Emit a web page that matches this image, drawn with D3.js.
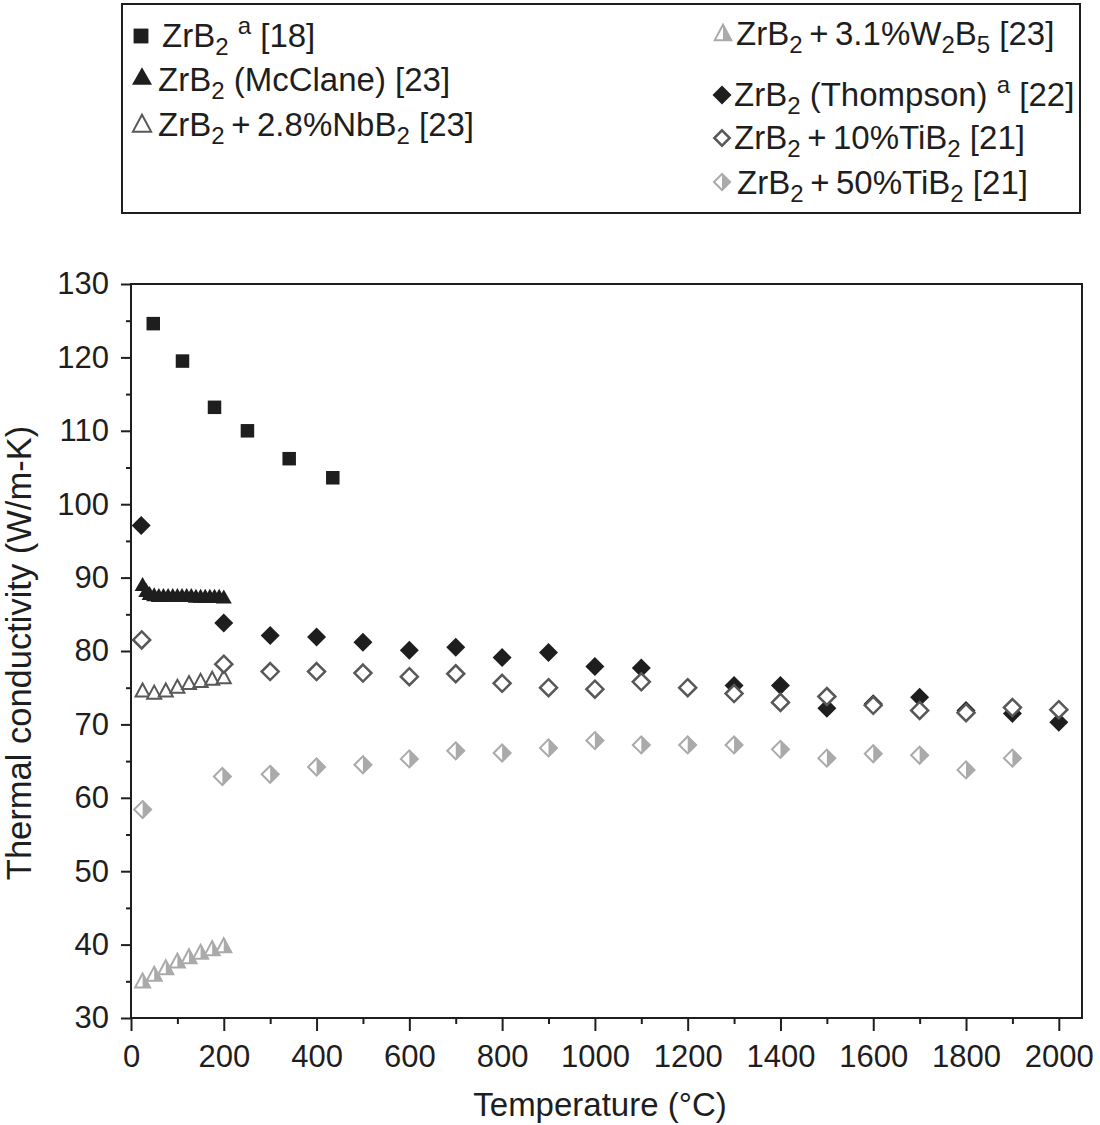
<!DOCTYPE html>
<html>
<head>
<meta charset="utf-8">
<script src="https://cdn.jsdelivr.net/npm/d3@7"></script>
<style>
  body { margin: 0; background: #fff; }
  svg { font-family: "Liberation Sans", Arial, Helvetica, sans-serif; }
</style>
</head>
<body>
<div id="chart"></div>
<script>
/* ============================================================
   DATA
============================================================ */

// ZrB2 a [18] - filled squares
const T_ZRB2_18 = [48, 111, 180, 251, 341, 435];
const K_ZRB2_18 = [124.6, 119.5, 113.2, 110.0, 106.2, 103.6];

// ZrB2 (McClane) [23] - filled triangles
const T_MCCLANE = [25, 33, 40, 50, 60, 70, 80, 90, 100, 110, 120, 130, 140, 150, 160, 170, 180, 190, 200];
const K_MCCLANE = [88.8, 88.0, 87.6, 87.4, 87.3, 87.3, 87.3, 87.3, 87.3, 87.3, 87.3, 87.3, 87.2, 87.2, 87.2, 87.2, 87.2, 87.2, 87.1];

// ZrB2 + 2.8% NbB2 [23] - open triangles
const T_NBB2 = [25, 50, 75, 100, 125, 150, 175, 200];
const K_NBB2 = [74.4, 74.1, 74.4, 74.9, 75.4, 75.7, 76.0, 76.2];

// ZrB2 + 3.1% W2B5 [23] - half-filled grey triangles
const T_W2B5 = [25, 50, 75, 100, 125, 150, 175, 200];
const K_W2B5 = [34.8, 35.7, 36.6, 37.5, 38.1, 38.7, 39.2, 39.6];

// ZrB2 (Thompson) a [22] - filled diamonds
const T_THOMPSON = [22, 200, 300, 400, 500, 600, 700, 800, 900, 1000, 1100, 1300, 1400, 1500, 1600, 1700, 1800, 1900, 2000];
const K_THOMPSON = [97.1, 83.8, 82.1, 81.9, 81.2, 80.1, 80.5, 79.1, 79.8, 77.9, 77.7, 75.3, 75.3, 72.2, 72.8, 73.7, 71.9, 71.5, 70.3];

// ZrB2 + 10% TiB2 [21] - open diamonds
const T_TIB2_10 = [23, 200, 300, 400, 500, 600, 700, 800, 900, 1000, 1100, 1200, 1300, 1400, 1500, 1600, 1700, 1800, 1900, 2000];
const K_TIB2_10 = [81.5, 78.2, 77.2, 77.2, 77.0, 76.5, 76.9, 75.6, 75.0, 74.8, 75.8, 75.0, 74.2, 73.0, 73.8, 72.6, 71.9, 71.6, 72.3, 72.0];

// ZrB2 + 50% TiB2 [21] - half-filled grey diamonds
const T_TIB2_50 = [25, 197, 300, 400, 500, 600, 700, 800, 900, 1000, 1100, 1200, 1300, 1400, 1500, 1600, 1700, 1800, 1900];
const K_TIB2_50 = [58.4, 62.9, 63.2, 64.2, 64.5, 65.3, 66.4, 66.1, 66.8, 67.8, 67.2, 67.2, 67.2, 66.6, 65.4, 66.0, 65.8, 63.8, 65.4];

const X_TICKS = [0, 200, 400, 600, 800, 1000, 1200, 1400, 1600, 1800, 2000];
const X_MINOR = [100, 300, 500, 700, 900, 1100, 1300, 1500, 1700, 1900];
const Y_TICKS = [30, 40, 50, 60, 70, 80, 90, 100, 110, 120, 130];
const Y_MINOR = [35, 45, 55, 65, 75, 85, 95, 105, 115, 125];

const X_TITLE = "Temperature (°C)";
const Y_TITLE = "Thermal conductivity (W/m-K)";

/* ============================================================
   SETUP
============================================================ */

const W = 1100, H = 1125;
const INK = "#1e1e1e";
const OPEN = "#585858";
const GREY = "#aaaaaa";

const svg = d3.select("#chart").append("svg")
    .attr("width", W)
    .attr("height", H);

const xScale = d3.scaleLinear().domain([0, 2050]).range([131, 1082]);
const yScale = d3.scaleLinear().domain([30, 130]).range([1018, 284]);

/* ============================================================
   MARKER SHAPES (relative to centre)
============================================================ */

const sq = s => `M${-s / 2},${-s / 2}h${s}v${s}h${-s}Z`;
const tri = (w, h) => `M0,${-2 * h / 3}L${w / 2},${h / 3}L${-w / 2},${h / 3}Z`;
const triRight = (w, h) => `M0,${-2 * h / 3}L${w / 2},${h / 3}L0,${h / 3}Z`;
const dia = r => `M0,${-r}L${r},0L0,${r}L${-r},0Z`;
const diaRight = r => `M0,${-r}L${r},0L0,${r}Z`;

// f = size factor (legend symbols are drawn at their own size)
const MARKERS = {
    square: (g, f = 1) => g.append("path").attr("d", sq(13.5 * f)).attr("fill", INK),
    triFill: (g, f = 1) => g.append("path").attr("d", tri(16 * f, 14 * f)).attr("fill", INK),
    triOpen: (g, f = 1) => g.append("path").attr("d", tri(14 * f, 13 * f)).attr("fill", "#fff")
        .attr("stroke", OPEN).attr("stroke-width", 2),
    triHalf: (g, f = 1) => {
        g.append("path").attr("d", tri(15 * f, 14 * f)).attr("fill", "#fff")
            .attr("stroke", GREY).attr("stroke-width", 2);
        g.append("path").attr("d", triRight(15 * f, 14 * f)).attr("fill", GREY);
    },
    diaFill: (g, f = 1) => g.append("path").attr("d", dia(9.5 * f)).attr("fill", INK),
    diaOpen: (g, f = 1) => g.append("path").attr("d", dia(8.5 * f)).attr("fill", "#fff")
        .attr("stroke", OPEN).attr("stroke-width", 2.5),
    diaHalf: (g, f = 1) => {
        g.append("path").attr("d", dia(8.5 * f)).attr("fill", "#fff")
            .attr("stroke", GREY).attr("stroke-width", 2);
        g.append("path").attr("d", diaRight(8.5 * f)).attr("fill", GREY);
    }
};

/* ============================================================
   FRAME & AXES
============================================================ */

const axisStyle = sel => {
    sel.select(".domain").remove();
    sel.selectAll("line").attr("stroke", INK).attr("stroke-width", 2);
    sel.selectAll("text").attr("fill", INK).attr("font-size", "31px");
};

svg.append("g")
    .attr("transform", `translate(0,${yScale(30)})`)
    .call(d3.axisBottom(xScale).tickValues(X_TICKS).tickSize(13).tickPadding(14).tickFormat(d3.format("d")))
    .call(axisStyle);

svg.append("g")
    .attr("transform", `translate(0,${yScale(30)})`)
    .call(d3.axisBottom(xScale).tickValues(X_MINOR).tickSize(6).tickFormat(""))
    .call(axisStyle);

svg.append("g")
    .attr("transform", `translate(${xScale(0)},0)`)
    .call(d3.axisLeft(yScale).tickValues(Y_TICKS).tickSize(10).tickPadding(12).tickFormat(d3.format("d")))
    .call(axisStyle);

svg.append("g")
    .attr("transform", `translate(${xScale(0)},0)`)
    .call(d3.axisLeft(yScale).tickValues(Y_MINOR).tickSize(5).tickFormat(""))
    .call(axisStyle);

svg.append("rect")
    .attr("x", xScale(0))
    .attr("y", yScale(130))
    .attr("width", xScale(2050) - xScale(0))
    .attr("height", yScale(30) - yScale(130))
    .attr("fill", "none")
    .attr("stroke", INK)
    .attr("stroke-width", 2);

svg.append("text")
    .attr("x", 600)
    .attr("y", 1116)
    .attr("text-anchor", "middle")
    .attr("font-size", "33px")
    .attr("fill", INK)
    .text(X_TITLE);

svg.append("text")
    .attr("transform", `translate(31,653) rotate(-90)`)
    .attr("text-anchor", "middle")
    .attr("font-size", "34.5px")
    .attr("fill", INK)
    .text(Y_TITLE);

/* ============================================================
   POINTS
============================================================ */

const SERIES = [
    { t: T_ZRB2_18, k: K_ZRB2_18, marker: "square" },
    { t: T_MCCLANE, k: K_MCCLANE, marker: "triFill" },
    { t: T_NBB2, k: K_NBB2, marker: "triOpen" },
    { t: T_W2B5, k: K_W2B5, marker: "triHalf" },
    { t: T_THOMPSON, k: K_THOMPSON, marker: "diaFill" },
    { t: T_TIB2_10, k: K_TIB2_10, marker: "diaOpen" },
    { t: T_TIB2_50, k: K_TIB2_50, marker: "diaHalf" }
];

const pointLayer = svg.append("g");

SERIES.forEach(s => {
    const pts = s.t.map((t, i) => ({ t, k: s.k[i] }));
    pointLayer.append("g")
        .selectAll("g")
        .data(pts)
        .join("g")
        .attr("transform", d => `translate(${xScale(d.t)},${yScale(d.k)})`)
        .each(function () { MARKERS[s.marker](d3.select(this)); });
});

/* ============================================================
   LEGEND
============================================================ */

const TS = "\u2009";
const LEGEND = [
    { marker: "square", f: 1.1, x: 141, y: 36, tx: 162, ty: 47,
      parts: [["ZrB"], ["2", "sub"], [" "], ["a", "sup"], [" [18]"]] },
    { marker: "triFill", f: 1.25, x: 142, y: 79, tx: 158, ty: 91,
      parts: [["ZrB"], ["2", "sub"], [" (McClane) [23]"]] },
    { marker: "triOpen", f: 1.3, x: 142, y: 126, tx: 158, ty: 136,
      parts: [["ZrB"], ["2", "sub"], [TS + "+" + TS + "2.8%NbB"], ["2", "sub"], [" [23]"]] },
    { marker: "triHalf", f: 1.1, x: 723, y: 35, tx: 736, ty: 45,
      parts: [["ZrB"], ["2", "sub"], [TS + "+" + TS + "3.1%W"], ["2", "sub"], ["B"], ["5", "sub"], [" [23]"]] },
    { marker: "diaFill", f: 1, x: 722, y: 95, tx: 734, ty: 106,
      parts: [["ZrB"], ["2", "sub"], [" (Thompson) "], ["a", "sup"], [" [22]"]] },
    { marker: "diaOpen", f: 0.9, x: 722, y: 138, tx: 734, ty: 149,
      parts: [["ZrB"], ["2", "sub"], [TS + "+" + TS + "10%TiB"], ["2", "sub"], [" [21]"]] },
    { marker: "diaHalf", f: 0.95, x: 722, y: 182, tx: 737, ty: 194,
      parts: [["ZrB"], ["2", "sub"], [TS + "+" + TS + "50%TiB"], ["2", "sub"], [" [21]"]] }
];

svg.append("rect")
    .attr("x", 122)
    .attr("y", 4)
    .attr("width", 958)
    .attr("height", 209)
    .attr("fill", "none")
    .attr("stroke", INK)
    .attr("stroke-width", 2);

const legend = svg.append("g");

LEGEND.forEach(e => {
    const mg = legend.append("g").attr("transform", `translate(${e.x},${e.y})`);
    MARKERS[e.marker](mg, e.f);

    const txt = legend.append("text")
        .attr("x", e.tx)
        .attr("y", e.ty)
        .attr("font-size", "33px")
        .attr("fill", INK);

    let shift = 0;
    e.parts.forEach(([str, kind]) => {
        const target = kind === "sub" ? 8 : kind === "sup" ? -13 : 0;
        txt.append("tspan")
            .attr("dy", target - shift)
            .attr("font-size", kind ? "24px" : "33px")
            .text(str);
        shift = target;
    });
});
</script>
</body>
</html>
